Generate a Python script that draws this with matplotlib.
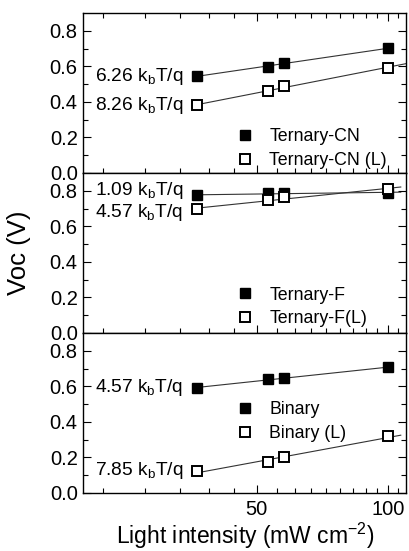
import numpy as np
import matplotlib
matplotlib.use("Agg")
import matplotlib.pyplot as plt
from matplotlib.ticker import FixedLocator, NullFormatter, FixedFormatter
from matplotlib.lines import Line2D

plt.rcParams['font.family'] = ['Liberation Sans', 'DejaVu Sans']
plt.rcParams['mathtext.fontset'] = 'custom'
plt.rcParams['mathtext.rm'] = 'Liberation Sans'
plt.rcParams['mathtext.it'] = 'Liberation Sans'
plt.rcParams['mathtext.default'] = 'regular'

# ---- data ----
intensity = [36.5, 53.0, 57.6, 100.0]

cn = [0.544, 0.598, 0.620, 0.701]
cn_l = [0.381, 0.461, 0.488, 0.592]
f = [0.774, 0.785, 0.787, 0.789]
f_l = [0.695, 0.747, 0.763, 0.808]
binary = [0.592, 0.639, 0.645, 0.707]
binary_l = [0.125, 0.172, 0.200, 0.319]

panels = [
    (cn, cn_l, "Ternary-CN", "Ternary-CN (L)", "6.26", "8.26"),
    (f, f_l, "Ternary-F", "Ternary-F(L)", "1.09", "4.57"),
    (binary, binary_l, "Binary", "Binary (L)", "4.57", "7.85"),
]
x_ticks = [50, 100]
x_tick_labels = ["50", "100"]
y_ticks = [0.0, 0.2, 0.4, 0.6, 0.8]
y_tick_labels = ["0.0", "0.2", "0.4", "0.6", "0.8"]

W, H = 410, 551
fig = plt.figure(figsize=(W / 100, H / 100), dpi=100)

left, right = 83.3 / W, 406 / W
ph = 160 / H
bottom0 = 1 - 493 / H

fit_end = [[100, 110], [107, 107], [100, 107]]
text_y = [[0.544, 0.381], [0.80, 0.68], [0.592, 0.125]]
leg_y = [0.28, 0.29, 0.575]

minor_x = [50 / 9 * k for k in range(4, 20) if k not in (9, 18)]

for i, (v1, v2, lab1, lab2, n1, n2) in enumerate(panels):
    b = bottom0 + (2 - i) * ph
    ax = fig.add_axes([left, b, right - left, ph])
    ax.set_xscale('log')
    ax.set_xlim(20, 110)
    ax.set_ylim(0, 0.9)
    lx = np.log10(intensity)
    for vals, fe in zip((v1, v2), fit_end[i]):
        p = np.polyfit(lx, vals, 1)
        xs = np.array([intensity[0], fe])
        ax.plot(xs, np.polyval(p, np.log10(xs)), color='#333333', lw=0.8, zorder=1)
    ax.plot(intensity, v1, 's', ms=7.6, mfc='black', mec='black', zorder=3)
    ax.plot(intensity, v2, 's', ms=7.2, mfc='white', mec='black', mew=1.4, zorder=4)

    ax.xaxis.set_major_locator(FixedLocator(x_ticks))
    ax.xaxis.set_minor_locator(FixedLocator(minor_x))
    ax.xaxis.set_minor_formatter(NullFormatter())
    if i == 2:
        ax.xaxis.set_major_formatter(FixedFormatter(x_tick_labels))
    else:
        ax.xaxis.set_major_formatter(NullFormatter())
    ax.yaxis.set_major_locator(FixedLocator(y_ticks))
    ax.yaxis.set_major_formatter(FixedFormatter(y_tick_labels))
    ax.yaxis.set_minor_locator(FixedLocator([0.1, 0.3, 0.5, 0.7]))
    ax.tick_params(which='both', direction='in', top=(i == 0), right=True,
                   width=0.8, labelsize=14.5)
    ax.tick_params(which='major', length=6)
    ax.tick_params(which='minor', length=3.5)
    ax.tick_params(axis='x', pad=5)
    ax.tick_params(axis='y', pad=4)
    for s in ax.spines.values():
        s.set_linewidth(1.0)

    for n, ty in zip((n1, n2), text_y[i]):
        ax.text(0.035, ty, n + r" k$_\mathrm{b}$T/q", transform=ax.get_yaxis_transform(),
                fontsize=13.8, va='center', ha='left')

    handles = [Line2D([], [], ls='none', marker='s', ms=7.6, mfc='black', mec='black'),
               Line2D([], [], ls='none', marker='s', ms=7.2, mfc='white', mec='black', mew=1.4)]
    ax.legend(handles, [lab1, lab2], loc='upper left', bbox_to_anchor=(0.475, leg_y[i]),
              frameon=False, fontsize=12.8, handlelength=1.0, handletextpad=0.85,
              labelspacing=0.38, borderpad=0, borderaxespad=0)

fig.text(19 / W, 1 - 253 / H, "Voc (V)", rotation=90, fontsize=18.5, ha='center', va='center')
fig.text(245 / W, 1 - 536 / H, r"Light intensity (mW cm$^{-2}$)", fontsize=16.5, ha='center', va='center')

fig.savefig("out.png", dpi=100)
